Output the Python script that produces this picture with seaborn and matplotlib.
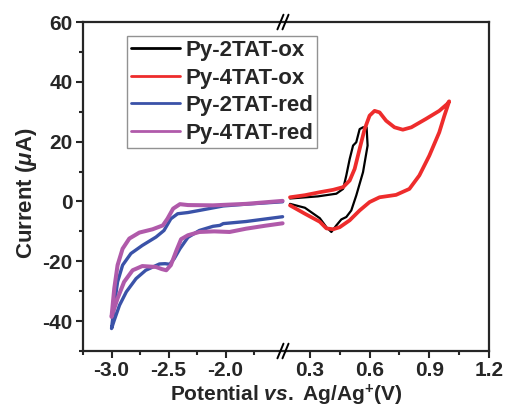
import matplotlib
matplotlib.use("Agg")
import matplotlib.pyplot as plt
from matplotlib.lines import Line2D
from matplotlib.ticker import MultipleLocator, FixedLocator
import seaborn as sns
import pandas as pd

# ---------------- data ----------------
series_names = ["Py-2TAT-ox", "Py-4TAT-ox", "Py-2TAT-red", "Py-4TAT-red"]

black_x = [0.20, 0.34, 0.433, 0.467, 0.483, 0.50, 0.517, 0.533, 0.55, 0.567, 0.585,
           0.59, 0.567, 0.533, 0.508, 0.483, 0.458, 0.433, 0.408, 0.383, 0.35,
           0.275, 0.20]
black_y = [1.0, 1.7, 2.6, 4.2, 8.7, 14.2, 18.7, 19.8, 24.2, 24.8, 24.8,
           18.7, 9.8, 2.0, -3.0, -5.2, -6.0, -8.0, -10.2, -8.6, -5.6,
           -2.1, -0.8]

red_x = [0.20, 0.275, 0.35, 0.417, 0.467, 0.50, 0.525, 0.55, 0.575, 0.60, 0.625,
         0.65, 0.683, 0.725, 0.767, 0.81, 0.883, 0.95, 0.99, 1.00,
         0.975, 0.95, 0.90, 0.85, 0.80, 0.733, 0.65, 0.60, 0.55, 0.50, 0.45,
         0.417, 0.383, 0.35, 0.275, 0.20]
red_y = [1.4, 2.1, 3.1, 3.9, 4.8, 7.0, 10.9, 17.6, 24.2, 28.7, 30.3,
         29.8, 27.0, 24.8, 24.0, 24.8, 27.6, 30.3, 32.6, 33.5,
         28.5, 23.1, 15.3, 8.7, 4.2, 2.2, 1.4, -0.2, -3.0, -6.3, -8.6,
         -9.3, -9.0, -6.8, -4.1, -1.3]

blue_x = [-1.50, -1.82, -2.02, -2.05, -2.11, -2.23, -2.33, -2.40, -2.45, -2.49,
          -2.53, -2.58, -2.70, -2.785, -2.87, -2.93, -2.976, -3.00,
          -2.976, -2.947, -2.903, -2.83, -2.73, -2.61, -2.54, -2.48, -2.42,
          -2.33, -2.23, -2.02, -1.82, -1.50]
blue_y = [-5.1, -6.7, -7.4, -8.0, -8.3, -9.7, -12.0, -15.8, -19.1, -21.0,
          -20.8, -20.9, -23.0, -25.8, -30.2, -34.7, -39.7, -42.5,
          -34.7, -26.9, -21.3, -17.4, -14.7, -11.9, -9.7, -5.8, -4.1,
          -3.7, -3.0, -1.5, -0.9, -0.1]

pink_x = [-1.50, -1.65, -1.82, -1.965, -2.10, -2.23, -2.33, -2.39, -2.43, -2.48,
          -2.52, -2.56, -2.61, -2.73, -2.815, -2.89, -2.947, -2.99, -3.00,
          -2.976, -2.947, -2.903, -2.844, -2.756, -2.64, -2.55, -2.51, -2.46,
          -2.40, -2.33, -2.11, -1.82, -1.50]
pink_y = [-7.3, -8.1, -9.1, -10.2, -10.0, -10.2, -11.3, -12.6, -16.3, -21.3,
          -23.0, -22.6, -21.9, -21.6, -23.0, -26.9, -32.4, -37.4, -38.6,
          -29.1, -21.3, -15.8, -12.4, -10.4, -9.3, -8.0, -5.8, -2.4,
          -0.9, -1.2, -1.3, -0.8, 0.2]

colors = {"Py-2TAT-ox": "#000000", "Py-4TAT-ox": "#EE2C2C",
          "Py-2TAT-red": "#3A52A8", "Py-4TAT-red": "#B05AAA"}
widths = {"Py-2TAT-ox": 1.6, "Py-4TAT-ox": 2.7, "Py-2TAT-red": 2.4, "Py-4TAT-red": 2.9}

left_ticks = [-3.0, -2.5, -2.0]
right_ticks = [0.3, 0.6, 0.9, 1.2]
y_ticks = [-40, -20, 0, 20, 40, 60]

# ---------------- style ----------------
sns.set_style("ticks")
plt.rcParams["font.family"] = ["Liberation Sans", "DejaVu Sans"]
plt.rcParams["font.weight"] = "bold"
plt.rcParams["axes.unicode_minus"] = False
plt.rcParams["mathtext.fontset"] = "custom"
plt.rcParams["mathtext.rm"] = "Liberation Sans:bold"
plt.rcParams["mathtext.it"] = "Liberation Sans:italic:bold"
plt.rcParams["mathtext.bf"] = "Liberation Sans:bold"

def frame(xs, ys, name):
    return pd.DataFrame({"Potential": xs, "Current": ys, "Series": name})

df_left = pd.concat([frame(blue_x, blue_y, "Py-2TAT-red"),
                     frame(pink_x, pink_y, "Py-4TAT-red")], ignore_index=True)
df_right = pd.concat([frame(black_x, black_y, "Py-2TAT-ox"),
                      frame(red_x, red_y, "Py-4TAT-ox")], ignore_index=True)

fig = plt.figure(figsize=(5.05, 4.08), dpi=100)
gs = fig.add_gridspec(1, 2, left=0.1644, right=0.9683, bottom=0.1397, top=0.946,
                      wspace=0)
axL = fig.add_subplot(gs[0, 0])
axR = fig.add_subplot(gs[0, 1], sharey=axL)

for name in ["Py-2TAT-red", "Py-4TAT-red"]:
    sns.lineplot(data=df_left[df_left["Series"] == name], x="Potential", y="Current",
                 sort=False, estimator=None, color=colors[name], lw=widths[name],
                 solid_joinstyle="round", ax=axL, legend=False)
for name in ["Py-2TAT-ox", "Py-4TAT-ox"]:
    sns.lineplot(data=df_right[df_right["Series"] == name], x="Potential", y="Current",
                 sort=False, estimator=None, color=colors[name], lw=widths[name],
                 solid_joinstyle="round", ax=axR, legend=False)

axL.set_xlim(-3.25, -1.47)
axR.set_xlim(0.18, 1.2)
axL.set_ylim(-50, 60)

axL.xaxis.set_major_locator(FixedLocator(left_ticks))
axL.xaxis.set_minor_locator(FixedLocator([-3.25, -2.75, -2.25, -1.75]))
axR.xaxis.set_major_locator(FixedLocator(right_ticks))
axR.xaxis.set_minor_locator(FixedLocator([0.45, 0.75, 1.05]))
axL.yaxis.set_major_locator(FixedLocator(y_ticks))
axL.yaxis.set_minor_locator(MultipleLocator(10))
axL.set_yticklabels([str(v) for v in y_ticks])
axL.set_xticklabels([f"{v:.1f}" for v in left_ticks])
axR.set_xticklabels([f"{v:.1f}" for v in right_ticks])

for ax in (axL, axR):
    ax.tick_params(which="major", direction="out", length=5, width=1.5,
                   labelsize=15, pad=2.5)
    ax.tick_params(which="minor", direction="out", length=3, width=1.5)
    for s in ax.spines.values():
        s.set_linewidth(1.6)
    ax.set_xlabel("")
    ax.set_ylabel("")

axL.spines["right"].set_visible(False)
axR.spines["left"].set_visible(False)
axR.tick_params(axis="y", which="both", left=False, labelleft=False)
axL.tick_params(axis="y", which="both", right=False)

axL.set_ylabel("Current ($\\mu$A)", fontsize=16, fontweight="bold")
axL.yaxis.set_label_coords(-0.215, 0.48)
fig.text(0.567, 1 - 401 / 408, "Potential $\\mathit{vs.}$ Ag/Ag$^{\\mathbf{+}}$(V)",
         ha="center", va="baseline", fontsize=15, fontweight="bold")

# break marks
fx = axL.get_position().x1
for fy in (axL.get_position().y0, axL.get_position().y1):
    for dx in (-0.011, -0.001):
        fig.add_artist(Line2D([fx + dx - 0.006, fx + dx + 0.006],
                              [fy - 0.018, fy + 0.018], color="black", lw=1.4,
                              transform=fig.transFigure))

handles = [Line2D([], [], color=colors[n], lw=2.0) for n in series_names]
leg = fig.legend(handles, series_names, loc="upper left",
                 bbox_to_anchor=(0.2515, 0.912), frameon=True, fancybox=False,
                 fontsize=16, handlelength=2.2, handletextpad=0.25,
                 labelspacing=0.3, borderpad=0.18, borderaxespad=0)
leg.get_frame().set_edgecolor("#777777")
leg.get_frame().set_linewidth(1.0)
for t in leg.get_texts():
    t.set_fontweight("bold")

fig.savefig("out.png", dpi=100)
